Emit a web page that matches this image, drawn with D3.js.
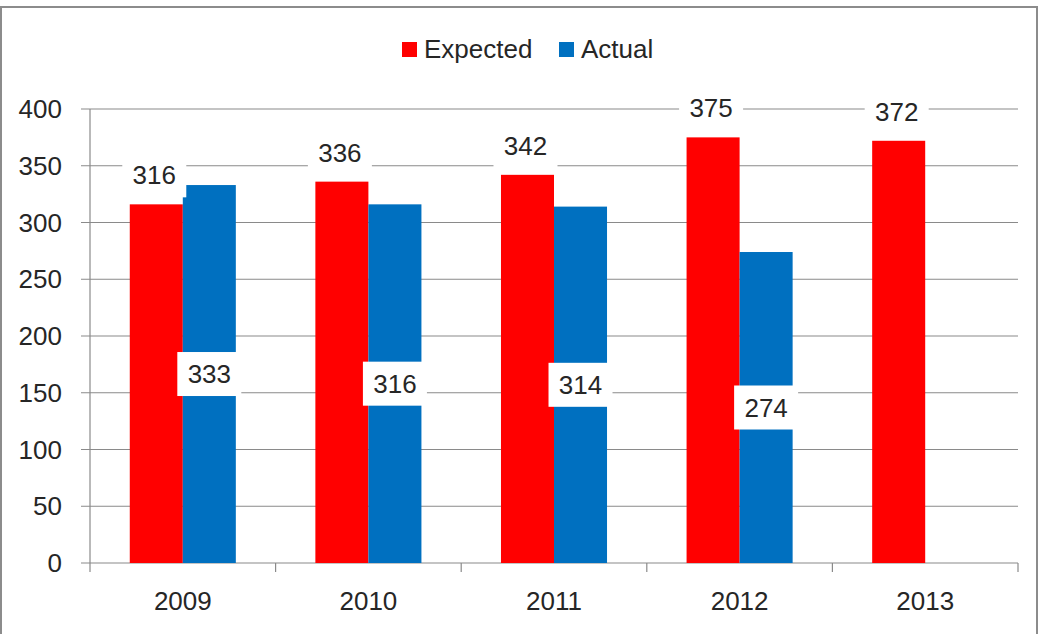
<!DOCTYPE html>
<html lang="en">
<head>
    <meta charset="UTF-8">
    <title>Expected vs Actual</title>
    <script src="https://d3js.org/d3.v7.min.js"></script>
    <style>
        body {
            margin: 0;
            background: #fff;
            font-family: "Liberation Sans", Arial, sans-serif;
        }

        svg text {
            fill: #262626;
            font-size: 26px;
        }

        .grid line {
            stroke: #8a8a8a;
            stroke-width: 1.2px;
        }
    </style>
</head>
<body>
<svg id="chart"></svg>
<script>

    // Data
    const years = ["2009", "2010", "2011", "2012", "2013"];
    const expected = [316, 336, 342, 375, 372];
    const actual = [333, 316, 314, 274, null];
    const yTicks = [0, 50, 100, 150, 200, 250, 300, 350, 400];
    const seriesNames = ["Expected", "Actual"];
    const seriesColors = ["#ff0000", "#0070c0"];

    const width = 1040;
    const height = 634;
    const plot = {left: 90, right: 1018, top: 109, bottom: 563};

    const svg = d3.select("#chart")
        .attr("width", width)
        .attr("height", height);

    // Chart area border
    svg.append("rect")
        .attr("x", 1)
        .attr("y", 7)
        .attr("width", 1036)
        .attr("height", 640)
        .attr("fill", "none")
        .attr("stroke", "#8c8c8c")
        .attr("stroke-width", 2);

    const x = d3.scaleBand()
        .domain(years)
        .range([plot.left, plot.right])
        .padding(0);

    // gap width 150% -> outer padding of 0.75 bar on each side
    const x1 = d3.scaleBand()
        .domain(seriesNames)
        .range([0, x.bandwidth()])
        .paddingInner(0)
        .paddingOuter(0.75);

    const y = d3.scaleLinear()
        .domain([0, 400])
        .range([plot.bottom, plot.top]);

    // Horizontal gridlines + y ticks
    const grid = svg.append("g").attr("class", "grid");
    grid.selectAll("line")
        .data(yTicks)
        .enter().append("line")
        .attr("x1", plot.left - 9)
        .attr("x2", plot.right)
        .attr("y1", d => y(d))
        .attr("y2", d => y(d));

    // Vertical axis line
    grid.append("line")
        .attr("x1", plot.left).attr("x2", plot.left)
        .attr("y1", y(400)).attr("y2", y(0));

    // Category ticks below the x axis
    const boundaries = years.map(d => x(d)).concat([plot.right]);
    grid.selectAll(".xtick")
        .data(boundaries)
        .enter().append("line")
        .attr("class", "xtick")
        .attr("x1", d => d).attr("x2", d => d)
        .attr("y1", y(0)).attr("y2", y(0) + 9);

    // Y tick labels
    svg.append("g")
        .selectAll("text")
        .data(yTicks)
        .enter().append("text")
        .attr("x", 62)
        .attr("y", d => y(d))
        .attr("dy", "0.35em")
        .attr("text-anchor", "end")
        .text(d => d);

    // X labels
    svg.append("g")
        .selectAll("text")
        .data(years)
        .enter().append("text")
        .attr("x", d => x(d) + x.bandwidth() / 2)
        .attr("y", 610)
        .attr("text-anchor", "middle")
        .text(d => d);

    // Bars
    const rows = years.map((yr, i) => ({year: yr, values: [expected[i], actual[i]]}));
    const barData = [];
    rows.forEach(r => {
        r.values.forEach((v, j) => {
            if (v != null) barData.push({year: r.year, series: seriesNames[j], color: seriesColors[j], value: v});
        });
    });

    svg.append("g")
        .selectAll("rect")
        .data(barData)
        .enter().append("rect")
        .attr("x", d => x(d.year) + x1(d.series))
        .attr("width", x1.bandwidth())
        .attr("y", d => y(d.value))
        .attr("height", d => y(0) - y(d.value))
        .attr("fill", d => d.color);

    // Data labels with white boxes
    const boxW = 64, boxH = 44;
    function labelPos(d) {
        const cx = x(d.year) + x1(d.series) + x1.bandwidth() / 2;
        if (d.series === "Expected") {
            // labels sit about 29px above the bar top
            return {cx: cx - 2, cy: y(d.value) - 29};
        }
        // actual labels centred in the bar
        return {cx, cy: (y(d.value) + y(0)) / 2};
    }

    const labels = svg.append("g")
        .selectAll("g")
        .data(barData)
        .enter().append("g")
        .attr("transform", d => {
            const p = labelPos(d);
            return `translate(${p.cx},${p.cy})`;
        });

    labels.append("rect")
        .attr("x", -boxW / 2)
        .attr("y", -boxH / 2)
        .attr("width", boxW)
        .attr("height", boxH)
        .attr("fill", "#fff");

    labels.append("text")
        .attr("text-anchor", "middle")
        .attr("dy", "0.35em")
        .text(d => d.value);

    // Legend
    const legendItems = [
        {name: seriesNames[0], color: seriesColors[0], x: 402},
        {name: seriesNames[1], color: seriesColors[1], x: 559}
    ];
    const legend = svg.append("g")
        .selectAll("g")
        .data(legendItems)
        .enter().append("g")
        .attr("transform", d => `translate(${d.x},42)`);

    legend.append("rect")
        .attr("width", 15)
        .attr("height", 15)
        .attr("fill", d => d.color);

    legend.append("text")
        .attr("x", 22)
        .attr("y", 16)
        .text(d => d.name);

</script>
</body>
</html>
